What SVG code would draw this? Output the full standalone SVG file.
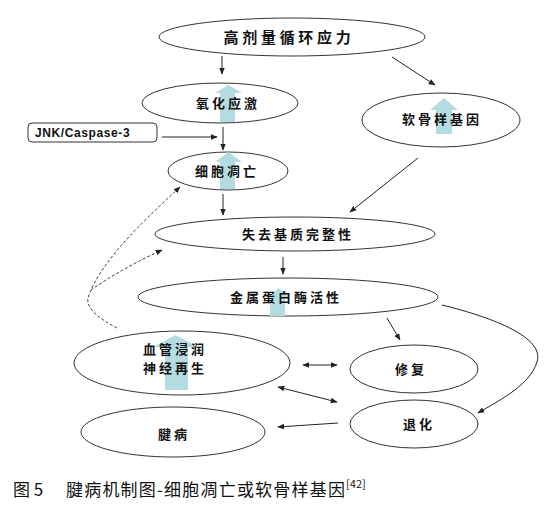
<svg xmlns="http://www.w3.org/2000/svg" width="549" height="514" viewBox="0 0 549 514">
<defs>
<style>
.node ellipse{fill:#fff;stroke:#333;stroke-width:1}
.lbl{font-family:"Noto Sans CJK SC","Noto Sans",sans-serif;font-size:13px;font-weight:600;fill:#111;letter-spacing:3px}
.up{fill:#b4dce0}
.edge{fill:none;stroke:#222;stroke-width:1}
.dash{fill:none;stroke:#444;stroke-width:1;stroke-dasharray:3 2}
</style>
<marker id="ah" viewBox="0 0 10 10" refX="9" refY="5" markerWidth="7" markerHeight="7" orient="auto-start-reverse" markerUnits="userSpaceOnUse">
<path d="M0,1 L10,5 L0,9 z" fill="#222"/>
</marker>
</defs>
<rect width="549" height="514" fill="#fff"/>

<g id="n-stress" class="node">
<ellipse cx="292" cy="37" rx="133" ry="19"/>
<text class="lbl" x="289" y="43" text-anchor="middle" style="font-size:15px;letter-spacing:3.7px">高剂量循环应力</text>
</g>

<g id="n-oxid" class="node">
<ellipse cx="220" cy="103" rx="78" ry="20"/>
<path class="up" d="M228.5,85 L242,93 L235,93 L235,122 L220,122 L220,93 L215,93 z"/>
<text class="lbl" x="228" y="108" text-anchor="middle">氧化应激</text>
</g>

<g id="n-jnk" class="node">
<rect x="28" y="123" width="129" height="19" rx="4" fill="#fff" stroke="#333" stroke-width="1"/>
<text x="35" y="137" style="font-family:'Liberation Sans',Arial,sans-serif;font-size:12px;font-weight:bold;letter-spacing:0.6px" fill="#111">JNK/Caspase-3</text>
</g>

<g id="n-apop" class="node">
<ellipse cx="228" cy="171" rx="60" ry="19"/>
<path class="up" d="M228.5,152 L242,162 L235,162 L235,189 L220,189 L220,162 L215,162 z"/>
<text class="lbl" x="227" y="176" text-anchor="middle">细胞凋亡</text>
</g>

<g id="n-gene" class="node">
<ellipse cx="441" cy="120" rx="79" ry="27"/>
<path class="up" d="M444,98 L458,110 L452,110 L452,134 L436,134 L436,110 L430,110 z"/>
<text class="lbl" x="442" y="124" text-anchor="middle">软骨样基因</text>
</g>

<g id="n-matrix" class="node">
<ellipse cx="295" cy="234" rx="140" ry="17"/>
<text class="lbl" x="298" y="239" text-anchor="middle">失去基质完整性</text>
</g>

<g id="n-mmp" class="node">
<ellipse cx="288" cy="297" rx="150" ry="19"/>
<path class="up" d="M278.5,288 L290,298 L285,298 L285,316 L270,316 L270,298 L267,298 z"/>
<text class="lbl" x="286" y="302" text-anchor="middle">金属蛋白酶活性</text>
</g>

<g id="n-vasc" class="node">
<ellipse cx="182" cy="363" rx="108" ry="32"/>
<path class="up" d="M175.5,335 L198,347 L188,347 L188,390 L165,390 L165,347 L153,347 z"/>
<text class="lbl"><tspan x="143" y="354">血管浸润</tspan><tspan x="143" y="373">神经再生</tspan></text>
</g>

<g id="n-repair" class="node">
<ellipse cx="414" cy="369" rx="64" ry="24"/>
<text class="lbl" x="411" y="374" text-anchor="middle">修复</text>
</g>

<g id="n-degen" class="node">
<ellipse cx="414" cy="424" rx="64" ry="24"/>
<text class="lbl" x="419" y="429" text-anchor="middle">退化</text>
</g>

<g id="n-tendino" class="node">
<ellipse cx="173" cy="432" rx="92" ry="25"/>
<text class="lbl" x="174" y="439" text-anchor="middle">腱病</text>
</g>

<g id="connectors">
<line class="edge" x1="222" y1="56" x2="222" y2="74" marker-end="url(#ah)"/>
<line class="edge" x1="392" y1="57" x2="435" y2="85" marker-end="url(#ah)"/>
<line class="edge" x1="162" y1="137" x2="217" y2="137" marker-end="url(#ah)"/>
<line class="edge" x1="223" y1="127" x2="223" y2="150" marker-end="url(#ah)"/>
<line class="edge" x1="418" y1="158" x2="350" y2="212" marker-end="url(#ah)"/>
<line class="edge" x1="223" y1="194" x2="223" y2="215" marker-end="url(#ah)"/>
<line class="edge" x1="283" y1="257" x2="283" y2="274" marker-end="url(#ah)"/>
<line class="edge" x1="387" y1="318" x2="400" y2="340" marker-end="url(#ah)"/>
<path class="edge" d="M442,305 C495,318 545,338 537,362 C530,385 500,400 478,413" marker-end="url(#ah)"/>
<line class="edge" x1="303" y1="365" x2="337" y2="365" marker-start="url(#ah)" marker-end="url(#ah)"/>
<line class="edge" x1="278" y1="387" x2="337" y2="402" marker-start="url(#ah)" marker-end="url(#ah)"/>
<line class="edge" x1="338" y1="423" x2="278" y2="427" marker-end="url(#ah)"/>
<path class="dash" d="M117,328 C98,318 86,308 88,298 C100,260 150,215 180,187" marker-end="url(#ah)"/>
<path class="dash" d="M91,290 C112,275 140,260 162,250" marker-end="url(#ah)"/>
</g>

<text x="13" y="496" style="font-family:'Noto Sans CJK SC','Noto Sans',sans-serif;font-size:17px" fill="#111">图 5<tspan x="66" style="letter-spacing:1.2px">腱病机制图-细胞凋亡或软骨样基因</tspan><tspan dy="-8" style="font-size:11px">[42]</tspan></text>
</svg>
